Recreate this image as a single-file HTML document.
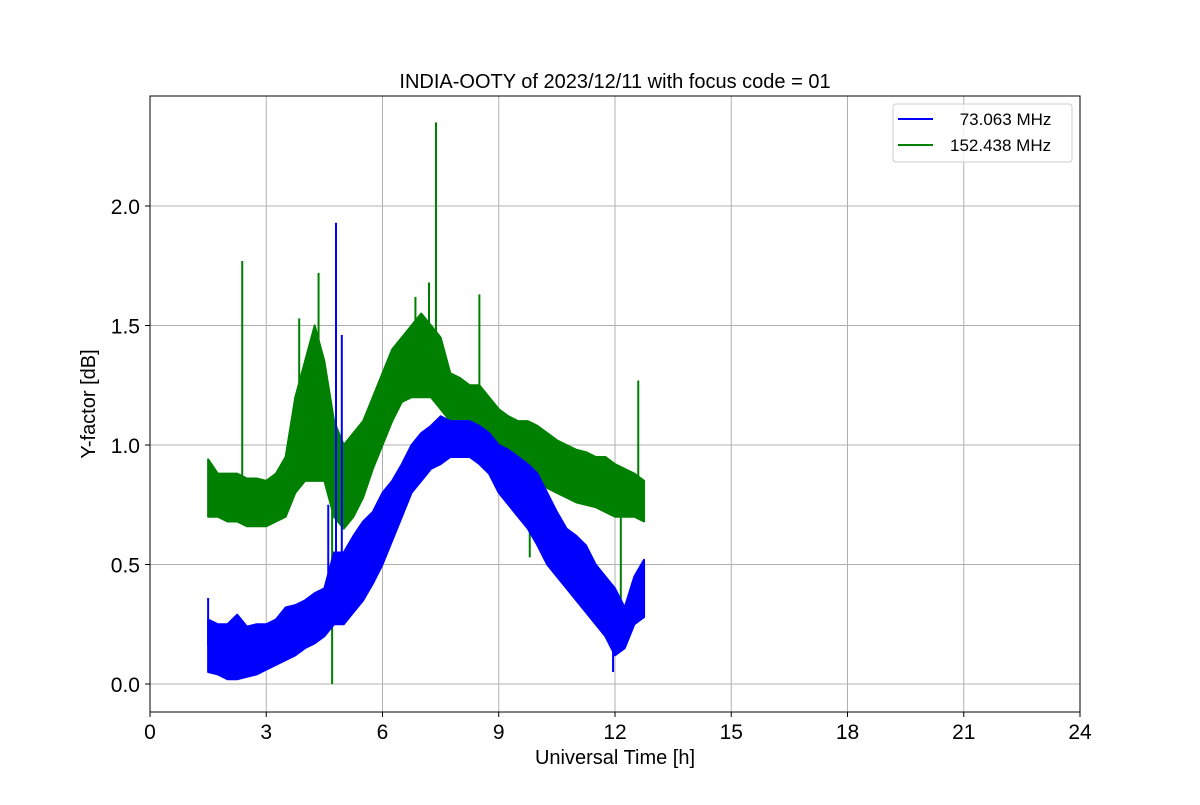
<!DOCTYPE html>
<html><head><meta charset="utf-8"><style>
body{margin:0;background:#fff;font-family:"Liberation Sans","DejaVu Sans",sans-serif}
svg text{font-family:"Liberation Sans","DejaVu Sans",sans-serif}
</style></head><body>
<svg id="chart" width="1200" height="800" xmlns="http://www.w3.org/2000/svg">
<rect width="1200" height="800" fill="#fff"/>
<g id="grid"></g>
<g id="series"></g>
<rect x="150" y="96" width="930" height="616" fill="none" stroke="#000" stroke-width="1"/>
<g id="axes"></g>
<text x="615" y="88" text-anchor="middle" font-size="20">INDIA-OOTY of 2023/12/11 with focus code = 01</text>
<text x="615" y="764" text-anchor="middle" font-size="20">Universal Time [h]</text>
<text transform="translate(95,404) rotate(-90)" text-anchor="middle" font-size="20">Y-factor [dB]</text>
<g>
<rect x="893" y="104" width="179" height="58" rx="3" fill="#fff" fill-opacity="0.8" stroke="#ccc"/>
<line x1="898" y1="119" x2="933" y2="119" stroke="#0000ff" stroke-width="2"/>
<text x="955" y="125" font-size="17">&#160;73.063 MHz</text>
<line x1="898" y1="145" x2="933" y2="145" stroke="#008000" stroke-width="2"/>
<text x="950" y="151" font-size="17">152.438 MHz</text>
</g>
</svg>
<script>
const times=[1.5,1.75,2,2.25,2.5,2.75,3,3.25,3.5,3.75,4,4.25,4.5,4.75,5,5.25,5.5,5.75,6,6.25,6.5,6.75,7,7.25,7.5,7.75,8,8.25,8.5,8.75,9,9.25,9.5,9.75,10,10.25,10.5,10.75,11,11.25,11.5,11.75,12,12.25,12.5,12.75];
const blueLo=[0.05,0.04,0.02,0.02,0.03,0.04,0.06,0.08,0.10,0.12,0.15,0.17,0.20,0.25,0.25,0.30,0.35,0.42,0.50,0.60,0.70,0.80,0.85,0.90,0.92,0.95,0.95,0.95,0.92,0.88,0.80,0.75,0.70,0.65,0.58,0.50,0.45,0.40,0.35,0.30,0.25,0.20,0.12,0.15,0.25,0.28];
const blueHi=[0.27,0.25,0.25,0.29,0.24,0.25,0.25,0.27,0.32,0.33,0.35,0.38,0.40,0.55,0.55,0.62,0.68,0.72,0.80,0.85,0.92,1.00,1.05,1.08,1.12,1.10,1.10,1.10,1.08,1.05,1.00,0.98,0.95,0.92,0.88,0.80,0.72,0.65,0.62,0.58,0.50,0.45,0.40,0.32,0.45,0.52];
const greenLo=[0.70,0.70,0.68,0.68,0.66,0.66,0.66,0.68,0.70,0.80,0.85,0.85,0.85,0.70,0.65,0.70,0.78,0.90,1.00,1.10,1.18,1.20,1.20,1.20,1.15,1.10,1.10,1.08,1.05,1.00,0.98,0.95,0.92,0.90,0.85,0.82,0.80,0.78,0.76,0.75,0.74,0.72,0.70,0.70,0.70,0.68];
const greenHi=[0.94,0.88,0.88,0.88,0.86,0.86,0.85,0.88,0.95,1.20,1.35,1.50,1.35,1.10,1.00,1.05,1.10,1.20,1.30,1.40,1.45,1.50,1.55,1.50,1.45,1.30,1.28,1.25,1.25,1.20,1.15,1.12,1.10,1.10,1.08,1.05,1.02,1.00,0.98,0.97,0.95,0.95,0.92,0.90,0.88,0.85];
const blueSpikeT=[1.5,4.6,4.8,4.95,11.95];
const blueSpikeV=[0.36,0.75,1.93,1.46,0.05];
const greenSpikeT=[2.38,3.85,4.35,4.7,6.85,7.2,7.38,8.5,9.8,12.15,12.6];
const greenSpikeV=[1.77,1.53,1.72,0.0,1.62,1.68,2.35,1.63,0.53,0.30,1.27];
const xTicks=[0,3,6,9,12,15,18,21,24];
const yTicks=[0,0.5,1.0,1.5,2.0];
const yTickLabels=["0.0","0.5","1.0","1.5","2.0"];

const NS="http://www.w3.org/2000/svg";
const X=t=>150+t*930/24;
const Y=v=>684-v*239;
function mk(tag,attrs,parent){const e=document.createElementNS(NS,tag);for(const k in attrs)e.setAttribute(k,attrs[k]);parent.appendChild(e);return e;}
const grid=document.getElementById('grid'),axes=document.getElementById('axes'),series=document.getElementById('series');
xTicks.forEach((t,i)=>{
  const g=mk('line',{x1:X(t),x2:X(t),y1:96,y2:712,stroke:'#b0b0b0','stroke-width':1},grid);
  
  
  mk('line',{x1:X(t),x2:X(t),y1:712,y2:717,stroke:'#000'},axes);
  const tx=mk('text',{x:X(t),y:739,'text-anchor':'middle','font-size':21},axes);
  tx.textContent=t;
  
  
});
yTicks.forEach((v,i)=>{
  const g=mk('line',{x1:150,x2:1080,y1:Y(v),y2:Y(v),stroke:'#b0b0b0','stroke-width':1},grid);
  
  
  mk('line',{x1:145,x2:150,y1:Y(v),y2:Y(v),stroke:'#000'},axes);
  const tx=mk('text',{x:140,y:Y(v)+8,'text-anchor':'end','font-size':21},axes);
  tx.textContent=yTickLabels[i];
  
  
});
function band(lo,hi,sT,sV,color,name){
  const g=mk('g',{},series);
  
  
  let pts=[];
  for(let i=0;i<times.length;i++){pts.push(X(times[i])+','+Y(hi[i]));}
  for(let i=times.length-1;i>=0;i--){pts.push(X(times[i])+','+Y(lo[i]));}
  mk('polygon',{points:pts.join(' '),fill:color,stroke:color,'stroke-width':2,'stroke-linejoin':'round'},g);
  let z=[];
  for(let i=0;i<times.length-1;i++){
    const dt=(times[i+1]-times[i])/6;
    for(let k=0;k<6;k++){
      const f=k/6,l=lo[i]+(lo[i+1]-lo[i])*f,h=hi[i]+(hi[i+1]-hi[i])*f;
      z.push(X(times[i]+k*dt)+','+Y(k%2?h:l));
    }
  }
  mk('polyline',{points:z.join(' '),fill:'none',stroke:color,'stroke-width':1.5},g);
  sT.forEach((t,i)=>{
    const j=Math.min(times.length-1,Math.max(0,Math.round((t-times[0])/0.25)));
    const base=(lo[j]+hi[j])/2;
    const s=mk('line',{x1:X(t),x2:X(t),y1:Y(base),y2:Y(sV[i]),stroke:color,'stroke-width':2},g);
    
    
  });
}
band(greenLo,greenHi,greenSpikeT,greenSpikeV,'#008000','series-152mhz');
band(blueLo,blueHi,blueSpikeT,blueSpikeV,'#0000ff','series-73mhz');
</script>
</body></html>
